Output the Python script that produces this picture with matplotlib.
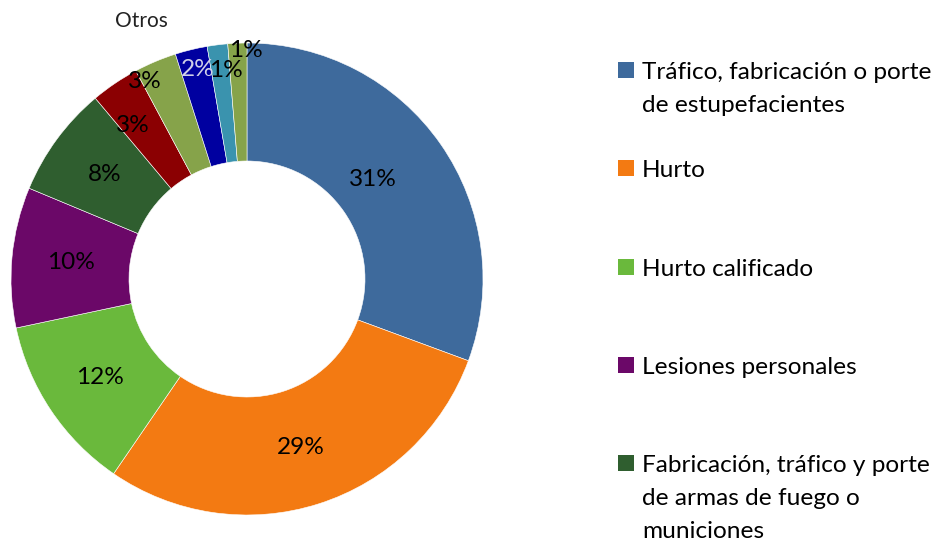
import matplotlib.pyplot as plt
from matplotlib.patches import Rectangle
from matplotlib.transforms import Bbox
import numpy as np

# Data (percent shares)
categories = [
    "Tráfico, fabricación o porte\nde estupefacientes",
    "Hurto",
    "Hurto calificado",
    "Lesiones personales",
    "Fabricación, tráfico y porte\nde armas de fuego o\nmuniciones",
    "Otros 1", "Otros 2", "Otros 3", "Otros 4", "Otros 5",
]
values = [30.6, 28.9, 12.1, 9.6, 7.6, 3.3, 2.9, 2.2, 1.4, 1.3]
n_legend = 5

colors = ["#3E6A9C", "#F37A12", "#6AB93C", "#6B0868", "#2F5E2F",
          "#8B0002", "#86A34A", "#0000A0", "#3A93AE", "#86A34A"]
label_colors = ["black"] * 7 + ["#D0D0E8"] + ["black"] * 2
# label radius (fraction of outer radius) and angular nudge (deg)
label_r = [0.68, 0.75, 0.75, 0.75, 0.75, 0.81, 0.94, 0.91, 0.89, 0.97]
label_dang = [3.5, 0, 0, 0, 0, 2.5, 4.4, -0.5, -1.4, -2.1]

FONT = "Lato"
FS = 17.6

fig = plt.figure(figsize=(9.42, 5.4), dpi=100)
W, H = 942, 540
cx, cy, R = 247, 279, 236
ax = fig.add_axes([(cx - R) / W, (H - cy - R) / H, 2 * R / W, 2 * R / H])

wedges, _ = ax.pie(values, colors=colors, startangle=90, counterclock=False,
                   radius=1.0, wedgeprops=dict(width=0.5, edgecolor="white", linewidth=0.4))
ax.set_xlim(-1, 1)
ax.set_ylim(-1, 1)
ax.axis("off")

total = sum(values)
for w, v, r, da, lc in zip(wedges, values, label_r, label_dang, label_colors):
    ang = np.deg2rad((w.theta1 + w.theta2) / 2 + da)
    ax.text(r * np.cos(ang), r * np.sin(ang), f"{round(100 * v / total):d}%",
            ha="center", va="center", fontsize=FS, color=lc, family=FONT)

# "Otros" caption, clipped at its bottom like the original
t = fig.text(141 / W, 1 - 21 / H, "Otros", ha="center", va="center",
             fontsize=15, family=FONT, color="#222222")
t.set_clip_box(Bbox([[0, H - 29], [W, H]]))
t.set_clip_on(True)

# Legend, drawn by hand to mimic first-line alignment
first_base = 79
step = 98.25
line_gap = 33
for i in range(n_legend):
    base = first_base + i * step
    fig.add_artist(Rectangle((618 / W, 1 - (base - 1) / H), 16 / W, 16 / H,
                             transform=fig.transFigure, facecolor=colors[i],
                             edgecolor="none"))
    for j, line in enumerate(categories[i].split("\n")):
        fig.text(642 / W, 1 - (base + j * line_gap) / H, line, ha="left",
                 va="baseline", fontsize=FS, family=FONT, color="black")

fig.savefig("out.png", dpi=100)
